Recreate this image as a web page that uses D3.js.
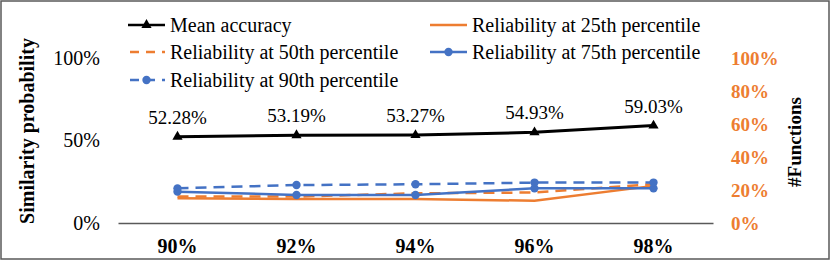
<!DOCTYPE html>
<html>
<head>
<meta charset="utf-8">
<script src="https://cdn.jsdelivr.net/npm/d3@7"></script>
<style>
  body { margin: 0; background: #fff; }
</style>
</head>
<body>
<div id="chart"></div>
<script>
///// Data

let categories = ["90%", "92%", "94%", "96%", "98%"];
let meanAccuracy = [0.5228, 0.5319, 0.5327, 0.5493, 0.5903];
let rel25 = [0.150, 0.145, 0.145, 0.135, 0.225];
let rel50 = [0.160, 0.160, 0.180, 0.185, 0.235];
let rel75 = [0.190, 0.170, 0.170, 0.210, 0.210];
let rel90 = [0.210, 0.230, 0.235, 0.245, 0.245];
let leftTicks = [0, 0.5, 1];
let rightTicks = [0, 0.2, 0.4, 0.6, 0.8, 1];

let orange = "#ED7D31",
    blue = "#4472C4",
    serif = "'Liberation Serif', 'Times New Roman', serif";

let series = [
    { name: "Mean accuracy", values: meanAccuracy, color: "#000", dash: null, marker: "triangle" },
    { name: "Reliability at 25th percentile", values: rel25, color: orange, dash: null, marker: null },
    { name: "Reliability at 50th percentile", values: rel50, color: orange, dash: "11,7", marker: null },
    { name: "Reliability at 75th percentile", values: rel75, color: blue, dash: null, marker: "circle" },
    { name: "Reliability at 90th percentile", values: rel90, color: blue, dash: "11,7", marker: "circle" }
];

let width = 830, height = 260;

let svg = d3.select("#chart")
    .append("svg")
    .attr("width", width)
    .attr("height", height)
    .attr("font-family", serif);

// outer frame
svg.append("rect")
    .attr("x", 1).attr("y", 1)
    .attr("width", width - 2).attr("height", height - 2)
    .attr("fill", "none")
    .attr("stroke", "#595959")
    .attr("stroke-width", 1.5);

// scales
let x = d3.scaleBand().domain(categories).range([118, 713]);
let y = d3.scaleLinear().domain([0, 1]).range([223, 58]);
let yR = d3.scaleLinear().domain([0, 1]).range([223, 58]);
let cx = d => x(d) + x.bandwidth() / 2;

function styleText(sel, size, weight, color) {
    sel.style("font-family", serif)
        .style("font-size", size + "px")
        .style("font-weight", weight)
        .attr("fill", color);
}

function markerPath(s) {
    return d3.symbol()
        .type(s.marker === "triangle" ? d3.symbolTriangle : d3.symbolCircle)
        .size(s.marker === "triangle" ? 45 : 55)();
}

// left axis
let leftAxis = svg.append("g")
    .attr("transform", "translate(100,0)")
    .call(d3.axisLeft(y).tickValues(leftTicks).tickSize(0).tickFormat(d3.format(".0%")));
leftAxis.attr("font-family", null);
leftAxis.select(".domain").remove();
leftAxis.selectAll("text").attr("x", 0).call(styleText, 20, "normal", "#000");

// right axis
let rightAxis = svg.append("g")
    .attr("transform", "translate(731,0)")
    .call(d3.axisRight(yR).tickValues(rightTicks).tickSize(0).tickFormat(d3.format(".0%")));
rightAxis.attr("font-family", null);
rightAxis.select(".domain").remove();
rightAxis.selectAll("text").attr("x", 0).call(styleText, 19, "bold", orange);

// x axis
let xAxis = svg.append("g")
    .attr("transform", "translate(0,223)")
    .call(d3.axisBottom(x).tickSize(0));
xAxis.attr("font-family", null);
xAxis.select(".domain")
    .attr("stroke", "#595959")
    .attr("stroke-width", 1.5);
xAxis.selectAll("text").attr("y", 16).call(styleText, 20, "bold", "#000");

// axis titles
svg.append("text")
    .attr("transform", "translate(27,131) rotate(-90)")
    .attr("dy", "0.35em")
    .style("text-anchor", "middle")
    .call(styleText, 20, "bold", "#000")
    .text("Similarity probability");

svg.append("text")
    .attr("transform", "translate(794,142) rotate(-90)")
    .attr("dy", "0.35em")
    .style("text-anchor", "middle")
    .call(styleText, 19, "bold", "#000")
    .text("#Functions");

// lines
let line = d3.line()
    .x((d, i) => cx(categories[i]))
    .y(d => y(d));

let drawOrder = [1, 2, 3, 4, 0];
drawOrder.forEach(function(k) {
    let s = series[k];
    svg.append("path")
        .datum(s.values)
        .attr("fill", "none")
        .attr("stroke", s.color)
        .attr("stroke-width", k === 0 ? 3 : 2.5)
        .attr("stroke-dasharray", s.dash)
        .attr("d", line);

    if (s.marker) {
        svg.selectAll(null)
            .data(s.values)
            .enter()
            .append("path")
            .attr("transform", (d, i) => "translate(" + cx(categories[i]) + "," + y(d) + ")")
            .attr("d", markerPath(s))
            .attr("fill", s.color);
    }
});

// data labels for mean accuracy
svg.selectAll(".dlabel")
    .data(meanAccuracy)
    .enter()
    .append("text")
    .attr("class", "dlabel")
    .attr("x", (d, i) => cx(categories[i]))
    .attr("y", d => y(d) - 13)
    .style("text-anchor", "middle")
    .call(styleText, 19, "normal", "#000")
    .text(d => d3.format(".2%")(d));

// legend
let legendPos = [
    { x: 128, y: 25 },
    { x: 430, y: 25 },
    { x: 128, y: 52 },
    { x: 430, y: 52 },
    { x: 128, y: 80 }
];

series.forEach(function(s, k) {
    let p = legendPos[k];
    let g = svg.append("g").attr("transform", "translate(" + p.x + "," + p.y + ")");
    g.append("line")
        .attr("x1", 0).attr("x2", 37)
        .attr("y1", 0).attr("y2", 0)
        .attr("stroke", s.color)
        .attr("stroke-width", 2.5)
        .attr("stroke-dasharray", s.dash ? "9,7" : null)
        .attr("stroke-dashoffset", s.dash ? -2 : null);
    if (s.marker) {
        g.append("path")
            .attr("transform", "translate(18.5,0)")
            .attr("d", markerPath(s))
            .attr("fill", s.color);
    }
    g.append("text")
        .attr("x", 42)
        .attr("dy", "0.35em")
        .call(styleText, 20, "normal", "#000")
        .text(s.name);
});
</script>
</body>
</html>
